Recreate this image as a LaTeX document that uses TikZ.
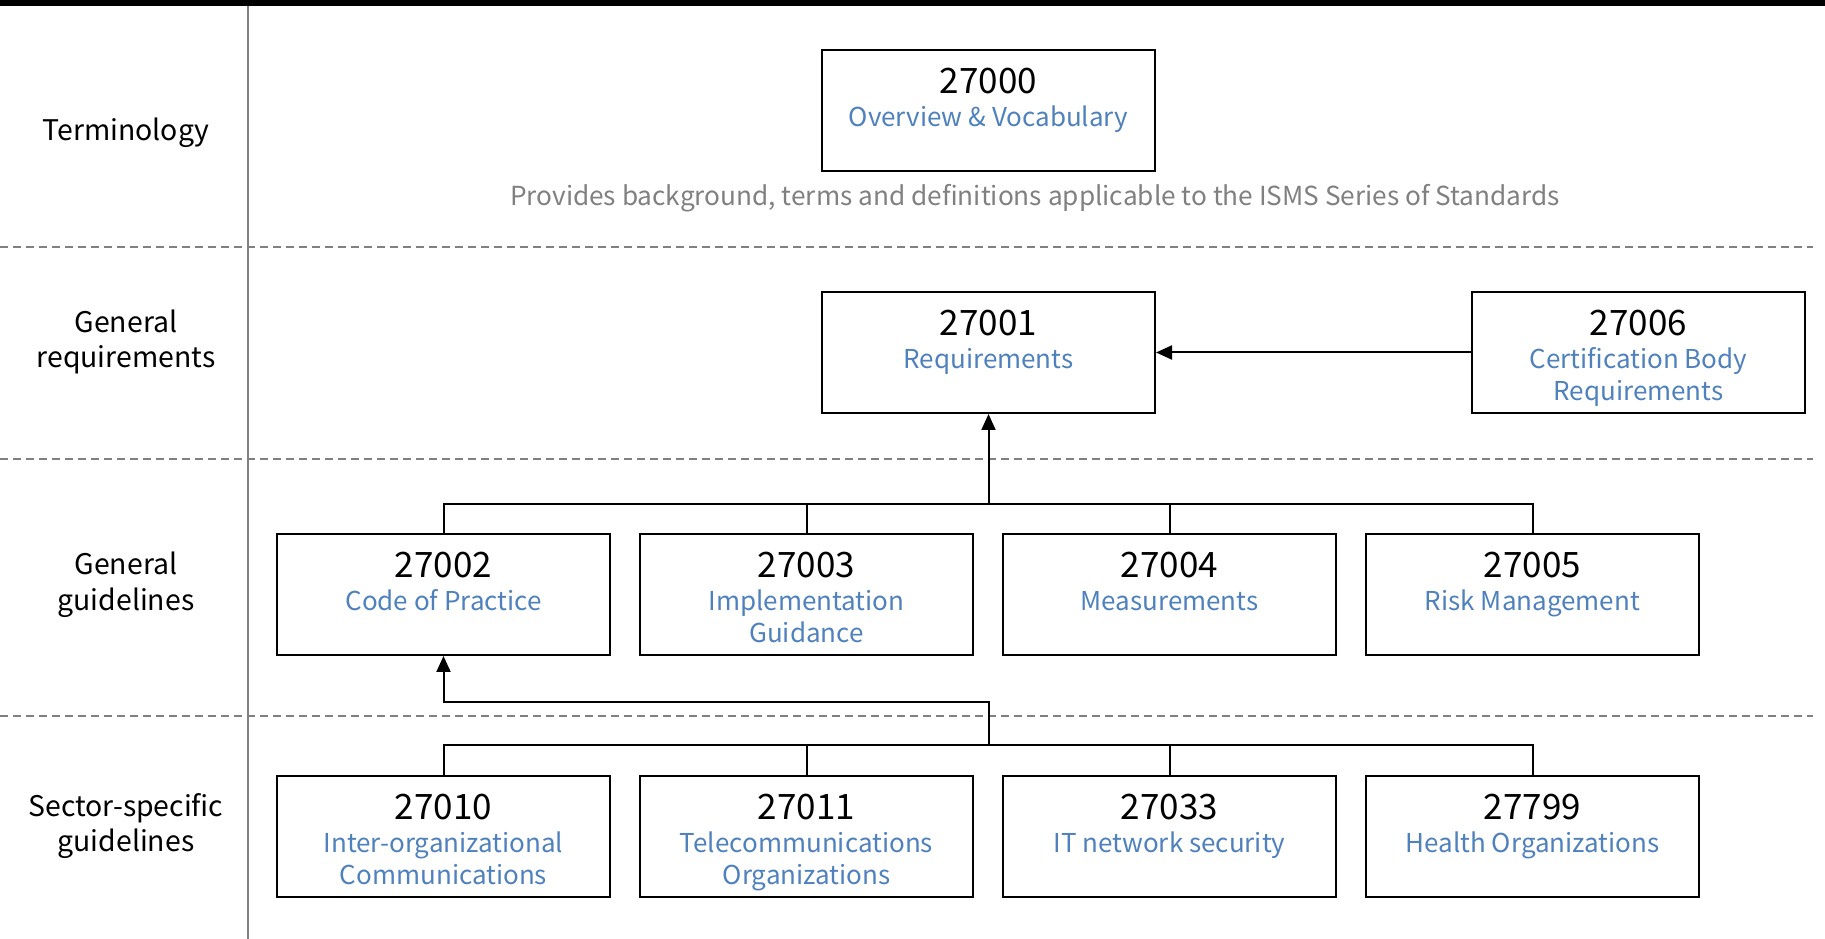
\documentclass[tikz,border=0pt]{standalone}
\usepackage{fontspec}
\setmainfont{Noto Sans CJK KR}
\usetikzlibrary{positioning}
\usetikzlibrary{calc}
\usetikzlibrary{arrows.meta}
\definecolor{isoblue}{RGB}{79,129,189}
\definecolor{descgray}{RGB}{128,128,128}
\definecolor{rulegray}{RGB}{128,128,128}
% number on top, blue title below, both hung from the box top
\newcommand{\stdtext}[2]{\parbox[c][121pt][t]{333pt}{\centering\fontsize{26}{31.5}\selectfont
  \rule{0pt}{43.5pt}{\fontsize{35}{35}\selectfont #1}\\[2pt]\color{isoblue}#2}}

\begin{document}
\begin{tikzpicture}
			[
				x = 1pt, y = 1pt,
				stdbox/.style = {rectangle, draw = black, line width = 2pt, inner sep = 0pt, minimum width = 333pt, minimum height = 121pt},
				tier/.style = {align = center, font = {\fontsize{28.4}{35.5}\selectfont}},
				conn/.style = {line width = 2pt},
				arrow/.style = {conn, -{Triangle[length = 16pt, width = 14pt]}},
				band/.style = {rulegray, line width = 2pt, dash pattern = on 8pt off 5pt},
			]
			\useasboundingbox (0,0) rectangle (1825,939);
			% frame
			\fill (0,933) rectangle (1825,939);
			\draw[band] (0,692) -- (1813,692);
			\draw[band] (0,480) -- (1813,480);
			\draw[band] (0,223) -- (1813,223);
			\draw[rulegray, line width = 2pt] (248,933) -- (248,0);
			% tiers
			\node (terminology) [tier] at (126,806) {Terminology};
			\node (genreq) [tier] at (126,597) {General\\requirements};
			\node (genguide) [tier] at (126,354) {General\\guidelines};
			\node (sector) [tier] at (126,113) {Sector-specific\\guidelines};
			% standards
			\node (overview) [stdbox] at (988.5,828.5) {\stdtext{27000}{Overview \& Vocabulary}};
			\node (background) [text = descgray, font = {\fontsize{26.2}{31.5}\selectfont}] at (1035,741) {Provides background, terms and definitions applicable to the ISMS Series of Standards};
			\node (requirements) [stdbox] at (988.5,586.5) {\stdtext{27001}{Requirements}};
			\node (certification) [stdbox] at (1638.5,586.5) {\stdtext{27006}{Certification Body\\Requirements}};
			\node (practice) [stdbox] at (443.5,344.5) {\stdtext{27002}{Code of Practice}};
			\node (implementation) [stdbox, right = 28pt of practice] {\stdtext{27003}{Implementation\\Guidance}};
			\node (measurements) [stdbox, right = 28pt of implementation] {\stdtext{27004}{Measurements}};
			\node (risk) [stdbox, right = 28pt of measurements] {\stdtext{27005}{Risk Management}};
			\node (interorg) [stdbox, below = 119pt of practice] {\stdtext{27010}{Inter-organizational\\Communications}};
			\node (telecom) [stdbox, right = 28pt of interorg] {\stdtext{27011}{Telecommunications\\Organizations}};
			\node (network) [stdbox, right = 28pt of telecom] {\stdtext{27033}{IT network security}};
			\node (health) [stdbox, right = 28pt of network] {\stdtext{27799}{Health Organizations}};
			% links
			\draw[arrow] (certification) -- (requirements);
			\coordinate (busg) at ($(requirements.south |- practice.north)+(0,29)$);
			\draw[conn] (practice.north) |- (busg) -| (risk.north);
			\draw[conn] (implementation.north) -- (implementation.north |- busg);
			\draw[conn] (measurements.north) -- (measurements.north |- busg);
			\draw[arrow] (busg) -- (requirements.south);
			\coordinate (buss) at ($(requirements.south |- interorg.north)+(0,30)$);
			\draw[conn] (interorg.north) |- (buss) -| (health.north);
			\draw[conn] (telecom.north) -- (telecom.north |- buss);
			\draw[conn] (network.north) -- (network.north |- buss);
			\draw[arrow] (buss) -- ++(0,43) -| (practice.south);
		\end{tikzpicture}
\end{document}
